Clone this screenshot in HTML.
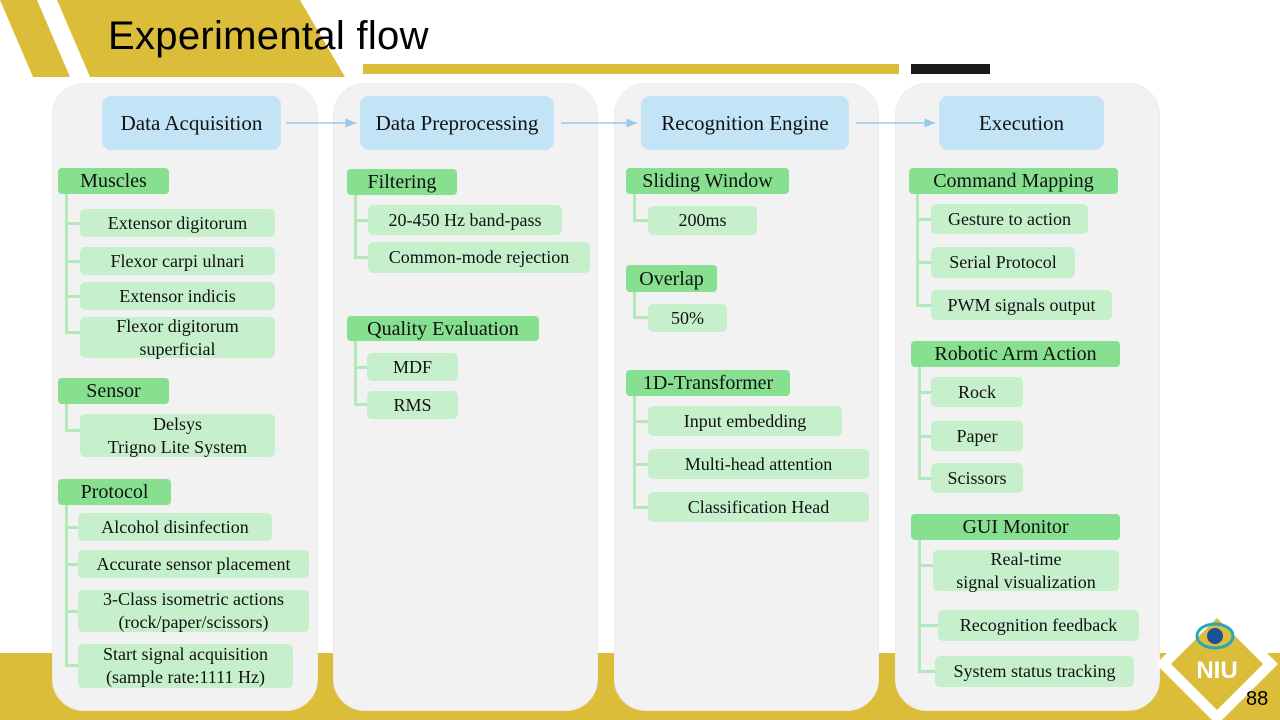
<!DOCTYPE html>
<html><head><meta charset="utf-8"><style>
*{margin:0;padding:0;box-sizing:border-box}
body{width:1280px;height:720px;position:relative;overflow:hidden;background:#fff;font-family:"Liberation Serif",serif;color:#111}
.a{position:absolute}
.pn{position:absolute;top:83px;height:628px;background:#f2f2f2;border-radius:32px;border:1px solid #ececec}
.h{position:absolute;background:#c3e4f6;border-radius:9px;display:flex;align-items:center;justify-content:center;font-size:21px;height:54px;top:96px}
.c{position:absolute;background:#86e08f;border-radius:4px;display:flex;align-items:center;justify-content:center;font-size:20px;line-height:1}
.i{position:absolute;background:#c6f0cb;border-radius:5px;display:flex;align-items:center;justify-content:center;text-align:center;font-size:18px;line-height:23px}
.v{position:absolute;width:3px;background:#b3e9ba}
.b{position:absolute;height:3px;background:#b3e9ba}
</style></head><body>
<svg class="a" style="left:0;top:0" width="1280" height="720">
<polygon points="0,0 37,0 70,77 33,77" fill="#dcbd3a"/>
<polygon points="57,0 300,0 345,77 90,77" fill="#dcbd3a"/>
<rect x="363" y="64" width="536" height="10" fill="#dcbd3a"/>
<rect x="911" y="64" width="79" height="10" fill="#1a1a1a"/>
<rect x="0" y="653" width="1280" height="67" fill="#dcbd3a"/>
</svg>
<div class="a" style="left:108px;top:14px;font-family:'Liberation Sans',sans-serif;font-size:40px;color:#000;letter-spacing:0.3px">Experimental flow</div>

<div class="pn" style="left:52px;width:266px"></div>
<div class="pn" style="left:333px;width:265px"></div>
<div class="pn" style="left:614px;width:265px"></div>
<div class="pn" style="left:895px;width:265px"></div>

<svg class="a" style="left:0;top:0" width="1280" height="720">
<defs><marker id="m" markerWidth="8" markerHeight="8" refX="7" refY="4" orient="auto"><path d="M0,1 L7,4 L0,7z" fill="#9cc8e8"/></marker></defs>
<g stroke="#9cc8e8" stroke-width="1.5" marker-end="url(#m)">
<line x1="286" y1="123" x2="356" y2="123"/>
<line x1="561" y1="123" x2="637" y2="123"/>
<line x1="856" y1="123" x2="935" y2="123"/>
</g>
<polygon points="1217,603 1278,664 1217,725 1156,664" fill="#fff"/>
<polygon points="1217,618 1263,664 1217,710 1171,664" fill="#dcbd3a"/>
<ellipse cx="1215" cy="636" rx="18" ry="12" fill="none" stroke="#2aa6b8" stroke-width="3"/>
<circle cx="1215" cy="636" r="8" fill="#1e4f9a"/>
<text x="1217" y="678" text-anchor="middle" font-family="Liberation Sans" font-weight="bold" font-size="24" fill="#fff">NIU</text>
</svg>
<div class="a" style="left:1246px;top:688px;font-family:'Liberation Sans',sans-serif;font-size:20px;color:#000">88</div>

<div class="h" style="left:102px;width:179px">Data Acquisition</div>
<div class="h" style="left:360px;width:194px">Data Preprocessing</div>
<div class="h" style="left:641px;width:208px">Recognition Engine</div>
<div class="h" style="left:939px;width:165px">Execution</div>

<!-- col1 -->
<div class="v" style="left:65px;top:194px;height:140px"></div>
<div class="b" style="left:65px;top:222px;width:16px"></div>
<div class="b" style="left:65px;top:260px;width:16px"></div>
<div class="b" style="left:65px;top:295px;width:16px"></div>
<div class="b" style="left:65px;top:331px;width:16px"></div>
<div class="v" style="left:65px;top:404px;height:28px"></div>
<div class="b" style="left:65px;top:429px;width:16px"></div>
<div class="v" style="left:65px;top:505px;height:162px"></div>
<div class="b" style="left:65px;top:526px;width:14px"></div>
<div class="b" style="left:65px;top:563px;width:14px"></div>
<div class="b" style="left:65px;top:610px;width:14px"></div>
<div class="b" style="left:65px;top:664px;width:14px"></div>
<div class="c" style="left:58px;top:168px;width:111px;height:26px">Muscles</div>
<div class="i" style="left:80px;top:209px;width:195px;height:28px">Extensor digitorum</div>
<div class="i" style="left:80px;top:247px;width:195px;height:28px">Flexor carpi ulnari</div>
<div class="i" style="left:80px;top:282px;width:195px;height:28px">Extensor indicis</div>
<div class="i" style="left:80px;top:317px;width:195px;height:41px">Flexor digitorum<br>superficial</div>
<div class="c" style="left:58px;top:378px;width:111px;height:26px">Sensor</div>
<div class="i" style="left:80px;top:414px;width:195px;height:43px">Delsys<br>Trigno Lite System</div>
<div class="c" style="left:58px;top:479px;width:113px;height:26px">Protocol</div>
<div class="i" style="left:78px;top:513px;width:194px;height:28px">Alcohol disinfection</div>
<div class="i" style="left:78px;top:550px;width:231px;height:28px">Accurate sensor placement</div>
<div class="i" style="left:78px;top:590px;width:231px;height:42px">3-Class isometric actions<br>(rock/paper/scissors)</div>
<div class="i" style="left:78px;top:644px;width:215px;height:44px">Start signal acquisition<br>(sample rate:1111 Hz)</div>

<!-- col2 -->
<div class="v" style="left:354px;top:195px;height:64px"></div>
<div class="b" style="left:354px;top:219px;width:15px"></div>
<div class="b" style="left:354px;top:256px;width:15px"></div>
<div class="v" style="left:354px;top:341px;height:64px"></div>
<div class="b" style="left:354px;top:366px;width:14px"></div>
<div class="b" style="left:354px;top:403px;width:14px"></div>
<div class="c" style="left:347px;top:169px;width:110px;height:26px">Filtering</div>
<div class="i" style="left:368px;top:205px;width:194px;height:30px">20-450 Hz band-pass</div>
<div class="i" style="left:368px;top:242px;width:222px;height:31px">Common-mode rejection</div>
<div class="c" style="left:347px;top:316px;width:192px;height:25px">Quality Evaluation</div>
<div class="i" style="left:367px;top:353px;width:91px;height:28px">MDF</div>
<div class="i" style="left:367px;top:391px;width:91px;height:28px">RMS</div>

<!-- col3 -->
<div class="v" style="left:633px;top:194px;height:28px"></div>
<div class="b" style="left:633px;top:219px;width:16px"></div>
<div class="v" style="left:633px;top:292px;height:27px"></div>
<div class="b" style="left:633px;top:316px;width:16px"></div>
<div class="v" style="left:633px;top:396px;height:112px"></div>
<div class="b" style="left:633px;top:420px;width:16px"></div>
<div class="b" style="left:633px;top:463px;width:16px"></div>
<div class="b" style="left:633px;top:506px;width:16px"></div>
<div class="c" style="left:626px;top:168px;width:163px;height:26px">Sliding Window</div>
<div class="i" style="left:648px;top:206px;width:109px;height:29px">200ms</div>
<div class="c" style="left:626px;top:265px;width:91px;height:27px">Overlap</div>
<div class="i" style="left:648px;top:304px;width:79px;height:28px">50%</div>
<div class="c" style="left:626px;top:370px;width:164px;height:26px">1D-Transformer</div>
<div class="i" style="left:648px;top:406px;width:194px;height:30px">Input embedding</div>
<div class="i" style="left:648px;top:449px;width:221px;height:30px">Multi-head attention</div>
<div class="i" style="left:648px;top:492px;width:221px;height:30px">Classification Head</div>

<!-- col4 -->
<div class="v" style="left:916px;top:194px;height:113px"></div>
<div class="b" style="left:916px;top:218px;width:16px"></div>
<div class="b" style="left:916px;top:261px;width:16px"></div>
<div class="b" style="left:916px;top:304px;width:16px"></div>
<div class="v" style="left:918px;top:367px;height:112px"></div>
<div class="b" style="left:918px;top:391px;width:14px"></div>
<div class="b" style="left:918px;top:435px;width:14px"></div>
<div class="b" style="left:918px;top:477px;width:14px"></div>
<div class="v" style="left:918px;top:540px;height:132px"></div>
<div class="b" style="left:918px;top:564px;width:16px"></div>
<div class="b" style="left:918px;top:624px;width:21px"></div>
<div class="b" style="left:918px;top:670px;width:18px"></div>
<div class="c" style="left:909px;top:168px;width:209px;height:26px">Command Mapping</div>
<div class="i" style="left:931px;top:204px;width:157px;height:30px">Gesture to action</div>
<div class="i" style="left:931px;top:247px;width:144px;height:31px">Serial Protocol</div>
<div class="i" style="left:931px;top:290px;width:181px;height:30px">PWM signals output</div>
<div class="c" style="left:911px;top:341px;width:209px;height:26px">Robotic Arm Action</div>
<div class="i" style="left:931px;top:377px;width:92px;height:30px">Rock</div>
<div class="i" style="left:931px;top:421px;width:92px;height:30px">Paper</div>
<div class="i" style="left:931px;top:463px;width:92px;height:30px">Scissors</div>
<div class="c" style="left:911px;top:514px;width:209px;height:26px">GUI Monitor</div>
<div class="i" style="left:933px;top:550px;width:186px;height:41px">Real-time<br>signal visualization</div>
<div class="i" style="left:938px;top:610px;width:201px;height:31px">Recognition feedback</div>
<div class="i" style="left:935px;top:656px;width:199px;height:31px">System status tracking</div>
</body></html>
